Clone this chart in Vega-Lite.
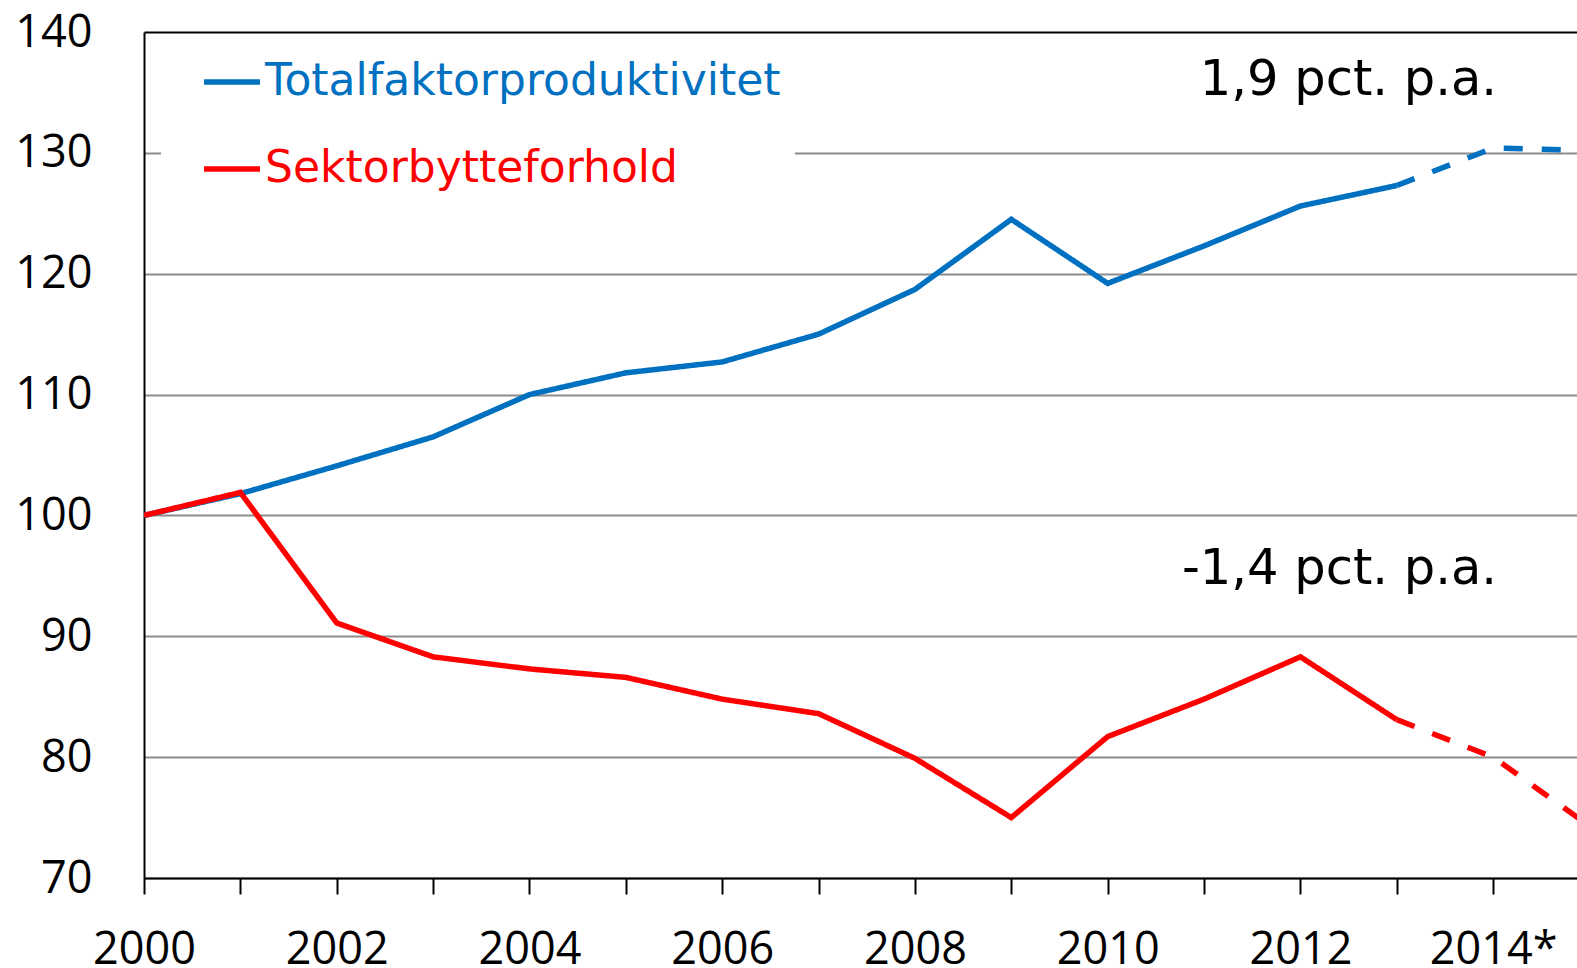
{
  "$schema": "https://vega.github.io/schema/vega-lite/v6.json",
  "width": 1433,
  "height": 846,
  "autosize": {"type": "none"},
  "padding": {"left": 144, "top": 32, "right": 0, "bottom": 90},
  "config": {"view": {"stroke": null}, "font": "DejaVu Sans"},
  "datasets": {
    "series": [
      {"serie": "Totalfaktorproduktivitet", "segment": "faktisk", "year": 2000, "value": 100.0},
      {"serie": "Totalfaktorproduktivitet", "segment": "faktisk", "year": 2001, "value": 101.8},
      {"serie": "Totalfaktorproduktivitet", "segment": "faktisk", "year": 2002, "value": 104.1},
      {"serie": "Totalfaktorproduktivitet", "segment": "faktisk", "year": 2003, "value": 106.5},
      {"serie": "Totalfaktorproduktivitet", "segment": "faktisk", "year": 2004, "value": 110.0},
      {"serie": "Totalfaktorproduktivitet", "segment": "faktisk", "year": 2005, "value": 111.8},
      {"serie": "Totalfaktorproduktivitet", "segment": "faktisk", "year": 2006, "value": 112.7},
      {"serie": "Totalfaktorproduktivitet", "segment": "faktisk", "year": 2007, "value": 115.0},
      {"serie": "Totalfaktorproduktivitet", "segment": "faktisk", "year": 2008, "value": 118.7},
      {"serie": "Totalfaktorproduktivitet", "segment": "faktisk", "year": 2009, "value": 124.5},
      {"serie": "Totalfaktorproduktivitet", "segment": "faktisk", "year": 2010, "value": 119.2},
      {"serie": "Totalfaktorproduktivitet", "segment": "faktisk", "year": 2011, "value": 122.3},
      {"serie": "Totalfaktorproduktivitet", "segment": "faktisk", "year": 2012, "value": 125.6},
      {"serie": "Totalfaktorproduktivitet", "segment": "faktisk", "year": 2013, "value": 127.3},
      {"serie": "Totalfaktorproduktivitet", "segment": "prognose", "year": 2013, "value": 127.3},
      {"serie": "Totalfaktorproduktivitet", "segment": "prognose", "year": 2014, "value": 130.4},
      {"serie": "Totalfaktorproduktivitet", "segment": "prognose", "year": 2015, "value": 130.2},
      {"serie": "Sektorbytteforhold", "segment": "faktisk", "year": 2000, "value": 100.0},
      {"serie": "Sektorbytteforhold", "segment": "faktisk", "year": 2001, "value": 101.9},
      {"serie": "Sektorbytteforhold", "segment": "faktisk", "year": 2002, "value": 91.1},
      {"serie": "Sektorbytteforhold", "segment": "faktisk", "year": 2003, "value": 88.3},
      {"serie": "Sektorbytteforhold", "segment": "faktisk", "year": 2004, "value": 87.3},
      {"serie": "Sektorbytteforhold", "segment": "faktisk", "year": 2005, "value": 86.6},
      {"serie": "Sektorbytteforhold", "segment": "faktisk", "year": 2006, "value": 84.8},
      {"serie": "Sektorbytteforhold", "segment": "faktisk", "year": 2007, "value": 83.6},
      {"serie": "Sektorbytteforhold", "segment": "faktisk", "year": 2008, "value": 79.9},
      {"serie": "Sektorbytteforhold", "segment": "faktisk", "year": 2009, "value": 75.0},
      {"serie": "Sektorbytteforhold", "segment": "faktisk", "year": 2010, "value": 81.7},
      {"serie": "Sektorbytteforhold", "segment": "faktisk", "year": 2011, "value": 84.8},
      {"serie": "Sektorbytteforhold", "segment": "faktisk", "year": 2012, "value": 88.3},
      {"serie": "Sektorbytteforhold", "segment": "faktisk", "year": 2013, "value": 83.1},
      {"serie": "Sektorbytteforhold", "segment": "prognose", "year": 2013, "value": 83.1},
      {"serie": "Sektorbytteforhold", "segment": "prognose", "year": 2014, "value": 80.0},
      {"serie": "Sektorbytteforhold", "segment": "prognose", "year": 2015, "value": 74.3}
    ],
    "notes": [
      {"label": "1,9 pct. p.a.", "year": 2014.04, "value": 136.0},
      {"label": "-1,4 pct. p.a.", "year": 2014.04, "value": 95.6}
    ]
  },
  "layer": [
    {
      "data": {"name": "series"},
      "mark": {"type": "line", "strokeWidth": 5.5, "clip": true, "strokeCap": "butt"},
      "encoding": {
        "x": {
          "field": "year", "type": "quantitative",
          "scale": {"domain": [2000, 2014.87], "nice": false, "zero": false},
          "axis": {
            "title": null,
            "values": [2000, 2001, 2002, 2003, 2004, 2005, 2006, 2007, 2008, 2009, 2010, 2011, 2012, 2013, 2014],
            "labelExpr": "datum.value == 2014 ? '2014*' : (datum.value % 2 == 0 ? '' + datum.value : '')",
            "grid": false,
            "domainColor": "black", "domainWidth": 2,
            "tickColor": "black", "tickWidth": 2, "tickSize": 16,
            "labelFont": "Open Sans", "labelFontSize": 45, "labelColor": "black",
            "labelPadding": 33, "labelOverlap": false, "labelFlush": false
          }
        },
        "y": {
          "field": "value", "type": "quantitative",
          "scale": {"domain": [70, 140], "nice": false, "zero": false},
          "axis": {
            "title": null,
            "values": [70, 80, 90, 100, 110, 120, 130, 140],
            "grid": true,
            "gridColor": {"condition": {"test": "datum.value == 140", "value": "black"}, "value": "#8c8c8c"},
            "gridWidth": 2,
            "ticks": false,
            "domainColor": "black", "domainWidth": 2,
            "labelFont": "Open Sans", "labelFontSize": 45, "labelColor": "black",
            "labelPadding": 52
          }
        },
        "color": {
          "field": "serie", "type": "nominal",
          "scale": {"domain": ["Totalfaktorproduktivitet", "Sektorbytteforhold"], "range": ["#0070C0", "#FF0000"]},
          "legend": {
            "title": null, "orient": "none", "legendX": 17, "legendY": 5,
            "padding": 14, "fillColor": "white", "direction": "vertical",
            "symbolType": "stroke", "symbolSize": 3136, "symbolStrokeWidth": 5.5, "symbolOffset": 26,
            "labelFont": "DejaVu Sans", "labelFontSize": 44, "labelOffset": 2,
            "rowPadding": 34, "labelLimit": 1000,
            "encode": {"labels": {"update": {"fill": {"scale": "color", "field": "value"}}}}
          }
        },
        "strokeDash": {
          "field": "segment", "type": "nominal",
          "scale": {"domain": ["faktisk", "prognose"], "range": [[1, 0], [19, 19]]},
          "legend": null
        },
        "order": {"field": "year"}
      }
    },
    {
      "data": {"name": "notes"},
      "mark": {"type": "text", "align": "right", "baseline": "middle", "fontSize": 49.5, "font": "DejaVu Sans", "color": "black"},
      "encoding": {
        "x": {"field": "year", "type": "quantitative"},
        "y": {"field": "value", "type": "quantitative"},
        "text": {"field": "label"}
      }
    }
  ]
}
